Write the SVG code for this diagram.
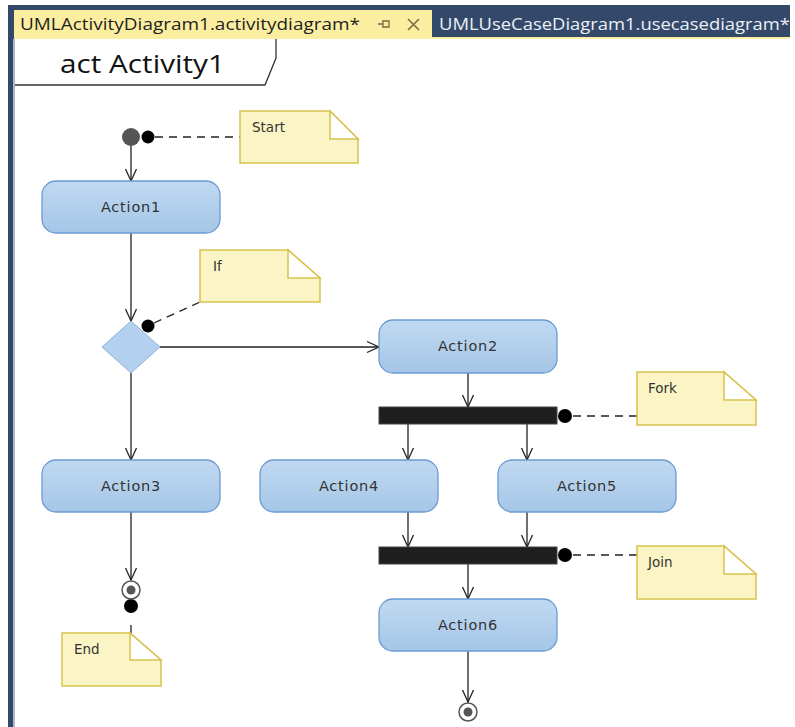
<svg xmlns="http://www.w3.org/2000/svg" width="795" height="727" viewBox="0 0 795 727">
<defs>
<linearGradient id="act" x1="0" y1="0" x2="0" y2="1">
<stop offset="0" stop-color="#c0d9f1"/>
<stop offset="1" stop-color="#a5c6e7"/>
</linearGradient>
<marker id="arr" viewBox="-13 -7 15 14" refX="0" refY="0" markerWidth="15" markerHeight="14" markerUnits="userSpaceOnUse" orient="auto">
<path d="M-12,-5.5 L0,0 L-12,5.5" fill="none" stroke="#222" stroke-width="1.3"/>
</marker>
</defs>
<style>
.action{fill:url(#act);stroke:#6b9bd2;stroke-width:1.3}
.alabel{font-family:"DejaVu Sans",Verdana,sans-serif;font-size:14.5px;fill:#333;text-anchor:middle;letter-spacing:0.8px}
.note{fill:#fbf5c5;stroke:#d8c24e;stroke-width:1.5}
.fold{fill:#ffffff;stroke:#d8c24e;stroke-width:1.5}
.nlabel{font-family:"DejaVu Sans",Verdana,sans-serif;font-size:13.5px;fill:#333}
.flow{stroke:#222;stroke-width:1.3;fill:none}
.dash{stroke:#222;stroke-width:1.3;fill:none;stroke-dasharray:8,6}
.bar{fill:#1e1e1e;stroke:#444;stroke-width:1}
.pin{fill:#000}
</style>
<rect x="0" y="0" width="795" height="727" fill="#ffffff"/>
<!-- window chrome -->
<g id="chrome">
<rect x="8" y="5" width="782" height="34" fill="#34496a"/>
<rect x="8" y="5" width="6" height="722" fill="#34496a"/>
<rect x="13" y="39" width="2" height="688" fill="#a9b8d0"/>
<rect x="14" y="10" width="418" height="29" fill="#fbeea0"/>
<rect x="432" y="37" width="358" height="2" fill="#fbeea0"/>
<text x="20" y="30" font-family="'Open Sans','Noto Sans',sans-serif" font-size="15.5" fill="#1e1e1e" textLength="340" lengthAdjust="spacingAndGlyphs">UMLActivityDiagram1.activitydiagram*</text>
<g stroke="#7a6a3e" stroke-width="1.3" fill="none">
<path d="M378,24 L383,24 M383,20 L383,28 M383,21 L389,21 L389,27 L383,27"/>
<path d="M408,19 L419,30 M419,19 L408,30" stroke-width="1.6"/>
</g>
<text x="439" y="30" font-family="'Open Sans','Noto Sans',sans-serif" font-size="15.5" fill="#eaf0f8" textLength="351" lengthAdjust="spacingAndGlyphs">UMLUseCaseDiagram1.usecasediagram*</text>
</g>
<g id="frame">
<path d="M15,85 L265,85 L276,58 L276,39" fill="none" stroke="#333" stroke-width="1.3"/>
<text x="60" y="73" font-family="'Open Sans','Noto Sans',sans-serif" font-size="26" fill="#111" textLength="165" lengthAdjust="spacingAndGlyphs">act Activity1</text>
</g>
<!-- connectors -->
<g id="connectors">
<line class="flow" x1="131" y1="145" x2="131" y2="181" marker-end="url(#arr)"/>
<line class="flow" x1="131" y1="233" x2="131" y2="321" marker-end="url(#arr)"/>
<line class="flow" x1="160" y1="347" x2="379" y2="347" marker-end="url(#arr)"/>
<line class="flow" x1="131" y1="373" x2="131" y2="460" marker-end="url(#arr)"/>
<line class="flow" x1="131" y1="512" x2="131" y2="580" marker-end="url(#arr)"/>
<line class="flow" x1="468" y1="373" x2="468" y2="407" marker-end="url(#arr)"/>
<line class="flow" x1="408" y1="424" x2="408" y2="460" marker-end="url(#arr)"/>
<line class="flow" x1="527" y1="424" x2="527" y2="460" marker-end="url(#arr)"/>
<line class="flow" x1="408" y1="512" x2="408" y2="547" marker-end="url(#arr)"/>
<line class="flow" x1="527" y1="512" x2="527" y2="547" marker-end="url(#arr)"/>
<line class="flow" x1="468" y1="564" x2="468" y2="599" marker-end="url(#arr)"/>
<line class="flow" x1="468" y1="651" x2="468" y2="702" marker-end="url(#arr)"/>
<!-- note anchors -->
<line class="dash" x1="155" y1="137" x2="240" y2="137"/>
<circle class="pin" cx="148" cy="137" r="6.5"/>
<line class="dash" x1="154" y1="323" x2="200" y2="302"/>
<circle class="pin" cx="148" cy="326" r="6.5"/>
<line class="dash" x1="573" y1="416" x2="637" y2="416"/>
<circle class="pin" cx="565" cy="416" r="7"/>
<line class="dash" x1="573" y1="555" x2="637" y2="555"/>
<circle class="pin" cx="565" cy="555" r="7"/>
<line class="flow" x1="131" y1="625" x2="131" y2="633"/>
<circle class="pin" cx="131" cy="606" r="7"/>
</g>
<!-- nodes -->
<g id="initial">
<circle cx="131" cy="137" r="9" fill="#555"/>
</g>
<g id="action1">
<rect class="action" x="42" y="181" width="178" height="52" rx="14"/>
<text class="alabel" x="131" y="212">Action1</text>
</g>
<g id="decision">
<polygon points="131,321 160,347 131,373 102,347" fill="#b3d0ee" stroke="#8fb3dc" stroke-width="1"/>
</g>
<g id="action2">
<rect class="action" x="379" y="320" width="178" height="53" rx="14"/>
<text class="alabel" x="468" y="351">Action2</text>
</g>
<g id="fork">
<rect class="bar" x="379" y="407" width="178" height="17"/>
</g>
<g id="action3">
<rect class="action" x="42" y="460" width="178" height="52" rx="14"/>
<text class="alabel" x="131" y="491">Action3</text>
</g>
<g id="action4">
<rect class="action" x="260" y="460" width="178" height="52" rx="14"/>
<text class="alabel" x="349" y="491">Action4</text>
</g>
<g id="action5">
<rect class="action" x="498" y="460" width="178" height="52" rx="14"/>
<text class="alabel" x="587" y="491">Action5</text>
</g>
<g id="join">
<rect class="bar" x="379" y="547" width="178" height="17"/>
</g>
<g id="action6">
<rect class="action" x="379" y="599" width="178" height="52" rx="14"/>
<text class="alabel" x="468" y="630">Action6</text>
</g>
<g id="final1">
<circle cx="131" cy="590" r="9" fill="#fff" stroke="#555" stroke-width="1.5"/>
<circle cx="131" cy="590" r="4.5" fill="#555"/>
</g>
<g id="final2">
<circle cx="468" cy="712" r="9" fill="#fff" stroke="#555" stroke-width="1.5"/>
<circle cx="468" cy="712" r="4.5" fill="#555"/>
</g>
<!-- notes -->
<g id="note-start">
<path class="note" d="M240,111 L330,111 L358,139 L358,163 L240,163 Z"/>
<path class="fold" d="M330,111 L330,139 L358,139 Z"/>
<text class="nlabel" x="252" y="132">Start</text>
</g>
<g id="note-if">
<path class="note" d="M200,250 L288,250 L320,278 L320,302 L200,302 Z"/>
<path class="fold" d="M288,250 L288,278 L320,278 Z"/>
<text class="nlabel" x="213" y="271">If</text>
</g>
<g id="note-fork">
<path class="note" d="M637,372 L724,372 L756,400 L756,425 L637,425 Z"/>
<path class="fold" d="M724,372 L724,400 L756,400 Z"/>
<text class="nlabel" x="648" y="393">Fork</text>
</g>
<g id="note-join">
<path class="note" d="M637,546 L724,546 L756,574 L756,599 L637,599 Z"/>
<path class="fold" d="M724,546 L724,574 L756,574 Z"/>
<text class="nlabel" x="648" y="567">Join</text>
</g>
<g id="note-end">
<path class="note" d="M62,633 L130,633 L161,660 L161,686 L62,686 Z"/>
<path class="fold" d="M130,633 L130,660 L161,660 Z"/>
<text class="nlabel" x="74" y="654">End</text>
</g>
</svg>
